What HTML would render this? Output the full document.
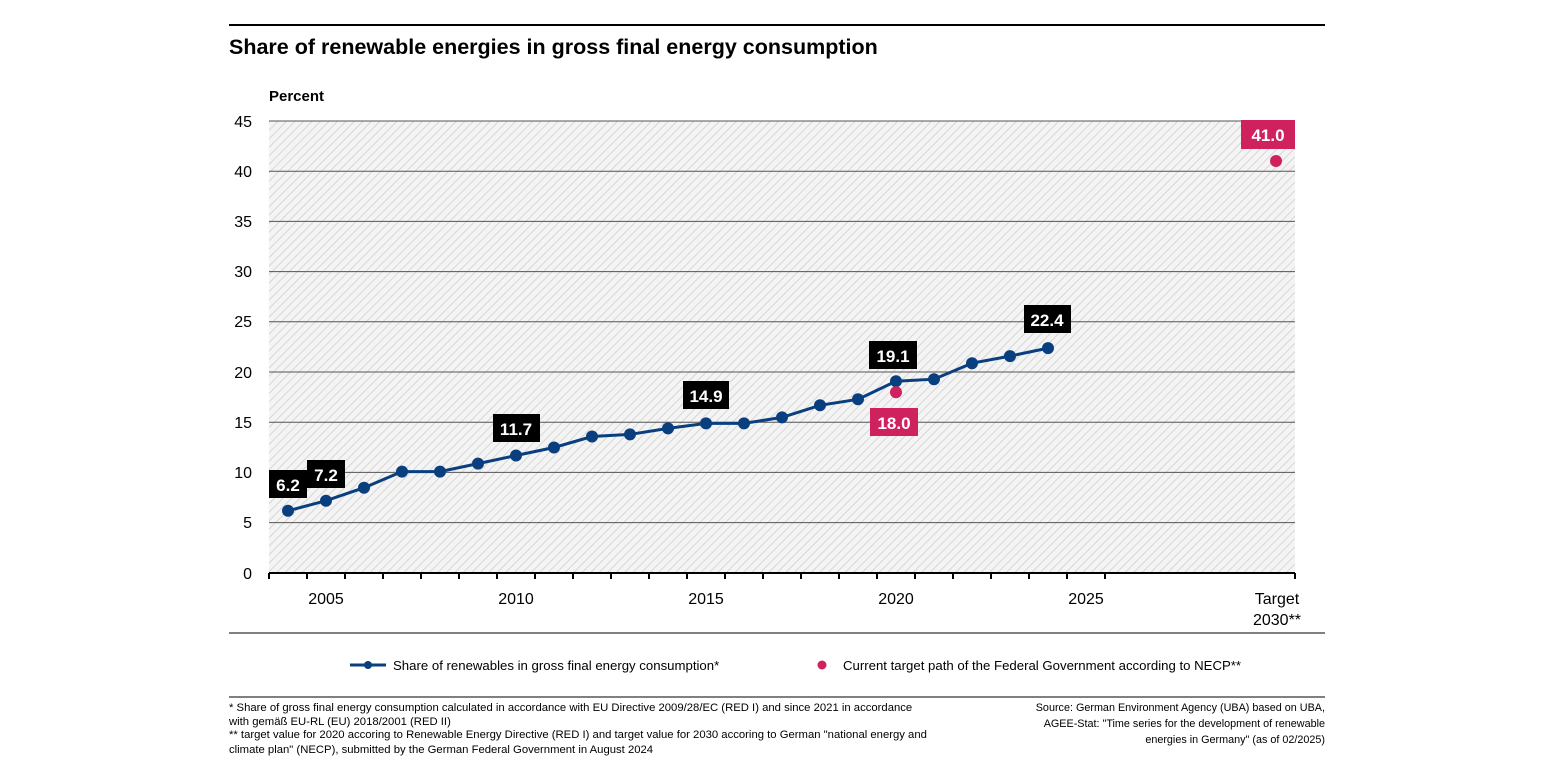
<!DOCTYPE html><html><head><meta charset="utf-8"><style>body{margin:0;background:#fff}svg{display:block;font-family:"Liberation Sans",sans-serif}</style></head><body>
<svg width="1545" height="775" viewBox="0 0 1545 775">
<defs><pattern id="h" width="6" height="6" patternUnits="userSpaceOnUse" patternTransform="rotate(45)"><rect width="6" height="6" fill="#f4f4f4"/><line x1="0" y1="0" x2="0" y2="6" stroke="#cfcfcf" stroke-width="1.6"/></pattern></defs>
<line x1="229" y1="25" x2="1325" y2="25" stroke="#000" stroke-width="2"/>
<text x="229" y="54" font-size="21.5" font-weight="bold">Share of renewable energies in gross final energy consumption</text>
<text x="269" y="101" font-size="15" font-weight="bold">Percent</text>
<rect x="269" y="121" width="1026" height="452" fill="url(#h)"/>
<g stroke="#555" stroke-width="1">
<line x1="269" y1="121" x2="1295" y2="121"/><line x1="269" y1="171.2" x2="1295" y2="171.2"/><line x1="269" y1="221.4" x2="1295" y2="221.4"/><line x1="269" y1="271.6" x2="1295" y2="271.6"/><line x1="269" y1="321.8" x2="1295" y2="321.8"/><line x1="269" y1="372" x2="1295" y2="372"/><line x1="269" y1="422.2" x2="1295" y2="422.2"/><line x1="269" y1="472.4" x2="1295" y2="472.4"/><line x1="269" y1="522.6" x2="1295" y2="522.6"/></g>
<line x1="269" y1="573" x2="1295" y2="573" stroke="#000" stroke-width="2"/>
<g font-size="16" text-anchor="end">
<text x="252" y="127">45</text><text x="252" y="177">40</text><text x="252" y="227">35</text><text x="252" y="277">30</text><text x="252" y="327">25</text><text x="252" y="378">20</text><text x="252" y="428">15</text><text x="252" y="478">10</text><text x="252" y="528">5</text><text x="252" y="579">0</text></g>
<g font-size="16" text-anchor="middle">
<text x="326" y="604">2005</text><text x="516" y="604">2010</text><text x="706" y="604">2015</text><text x="896" y="604">2020</text><text x="1086" y="604">2025</text><text x="1277" y="604">Target</text><text x="1277" y="625">2030**</text></g>
<polyline fill="none" stroke="#0a3f7f" stroke-width="3" points="288,510.8 326,500.7 364,487.7 402,471.6 440,471.6 478,463.6 516,455.5 554,447.5 592,436.5 630,434.4 668,428.4 706,423.4 744,423.4 782,417.4 820,405.3 858,399.3 896,381.2 934,379.2 972,363.2 1010,356.1 1048,348.1"/>
<g fill="#0a3f7f">
<circle cx="288" cy="510.8" r="6"/><circle cx="326" cy="500.7" r="6"/><circle cx="364" cy="487.7" r="6"/><circle cx="402" cy="471.6" r="6"/><circle cx="440" cy="471.6" r="6"/><circle cx="478" cy="463.6" r="6"/><circle cx="516" cy="455.5" r="6"/><circle cx="554" cy="447.5" r="6"/><circle cx="592" cy="436.5" r="6"/><circle cx="630" cy="434.4" r="6"/><circle cx="668" cy="428.4" r="6"/><circle cx="706" cy="423.4" r="6"/><circle cx="744" cy="423.4" r="6"/><circle cx="782" cy="417.4" r="6"/><circle cx="820" cy="405.3" r="6"/><circle cx="858" cy="399.3" r="6"/><circle cx="896" cy="381.2" r="6"/><circle cx="934" cy="379.2" r="6"/><circle cx="972" cy="363.2" r="6"/><circle cx="1010" cy="356.1" r="6"/><circle cx="1048" cy="348.1" r="6"/></g>
<circle cx="896" cy="392.3" r="6" fill="#d0215f"/><circle cx="1276" cy="161" r="6" fill="#d0215f"/>
<g font-size="17" font-weight="bold" fill="#fff" text-anchor="middle">
<rect x="269" y="470" width="38" height="28" fill="#000"/><text x="288" y="491">6.2</text>
<rect x="307" y="460" width="38" height="28" fill="#000"/><text x="326" y="481">7.2</text>
<rect x="493" y="414" width="47" height="28" fill="#000"/><text x="516" y="435">11.7</text>
<rect x="683" y="381" width="46" height="28" fill="#000"/><text x="706" y="402">14.9</text>
<rect x="869" y="341" width="48" height="28" fill="#000"/><text x="893" y="362">19.1</text>
<rect x="1024" y="305" width="47" height="28" fill="#000"/><text x="1047" y="326">22.4</text>
<rect x="870" y="408" width="48" height="28" fill="#d0215f"/><text x="894" y="429">18.0</text>
<rect x="1241" y="120" width="54" height="29" fill="#d0215f"/><text x="1268" y="141">41.0</text></g>
<line x1="229" y1="633" x2="1325" y2="633" stroke="#000" stroke-width="1"/>
<line x1="350" y1="665" x2="386" y2="665" stroke="#0a3f7f" stroke-width="3"/><circle cx="368" cy="665" r="4" fill="#0a3f7f"/>
<text x="393" y="670" font-size="13.2">Share of renewables in gross final energy consumption*</text>
<circle cx="822" cy="665" r="4.5" fill="#d0215f"/>
<text x="843" y="670" font-size="13.2">Current target path of the Federal Government according to NECP**</text>
<line x1="229" y1="697" x2="1325" y2="697" stroke="#000" stroke-width="1"/>
<g font-size="11.3"><text x="229" y="711">*  Share of gross final energy consumption calculated in accordance with EU Directive 2009/28/EC (RED I) and since 2021 in accordance</text>
<text x="229" y="725">with gemäß EU-RL (EU) 2018/2001 (RED II)</text>
<text x="229" y="738">** target value for 2020 accoring to Renewable Energy Directive (RED I) and target value for 2030 accoring to German "national energy and</text>
<text x="229" y="753">climate plan" (NECP), submitted by the German Federal Government in  August 2024</text></g>
<g font-size="10.8" text-anchor="end"><text x="1325" y="711">Source: German Environment Agency (UBA) based on UBA,</text><text x="1325" y="727">AGEE-Stat: "Time series for the development of renewable</text><text x="1325" y="743">energies in Germany" (as of 02/2025)</text></g>
<path stroke="#000" stroke-width="2" d="M269 573v6M307 573v6M345 573v6M383 573v6M421 573v6M459 573v6M497 573v6M535 573v6M573 573v6M611 573v6M649 573v6M687 573v6M725 573v6M763 573v6M801 573v6M839 573v6M877 573v6M915 573v6M953 573v6M991 573v6M1029 573v6M1067 573v6M1105 573v6M1295 573v6"/>
</svg></body></html>
